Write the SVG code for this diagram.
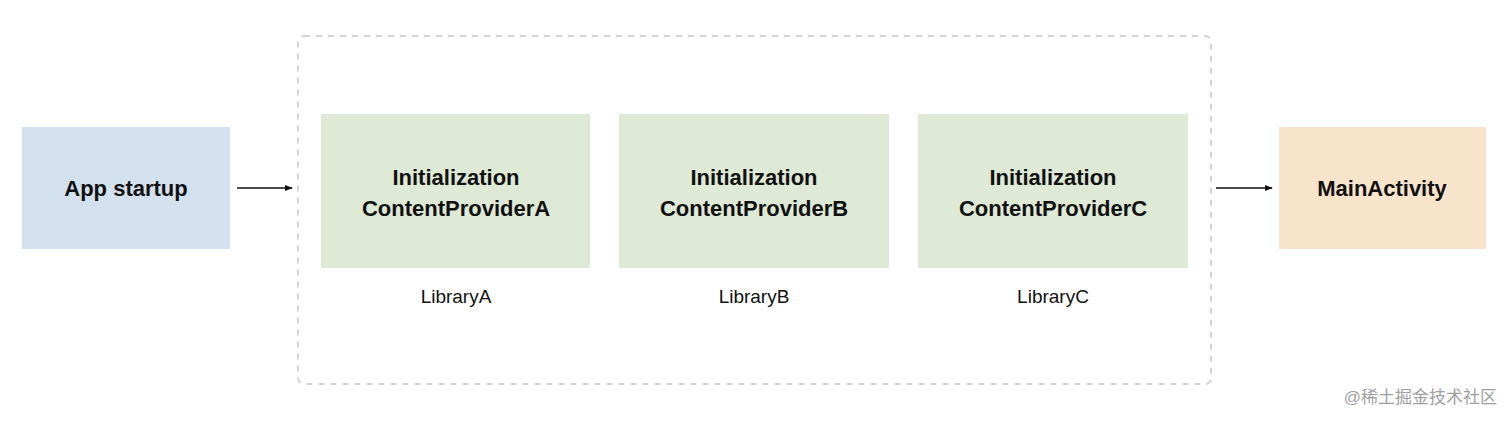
<svg xmlns="http://www.w3.org/2000/svg" width="1512" height="421" viewBox="0 0 1512 421">
<style>
.t{font-family:"Liberation Sans",Arial,sans-serif;fill:#111;text-anchor:middle}
.b{font-size:22px;font-weight:bold}
.l{font-size:19px}
.g{fill:#dee9d6}
.c{stroke:#111;stroke-width:1.5;fill:none;marker-end:url(#a)}
</style>
<defs><marker id="a" viewBox="0 0 10 10" refX="9" refY="5" markerWidth="8" markerHeight="8" markerUnits="userSpaceOnUse" orient="auto"><path d="M0,1 L10,5 L0,9 z" fill="#111"/></marker></defs>
<rect width="1512" height="421" fill="#fff"/>
<g id="container"><rect x="298" y="36" width="913" height="348" rx="6" fill="none" stroke="#d4d4d4" stroke-width="2" stroke-dasharray="6,6"/></g>
<g id="app"><rect x="22" y="127" width="208" height="122" fill="#d3e1ef"/><text class="t b" x="126" y="196">App startup</text></g>
<g id="cpA"><rect class="g" x="321" y="114" width="269" height="154"/><text class="t b" x="456" y="185">Initialization</text><text class="t b" x="456" y="216">ContentProviderA</text><text class="t l" x="456" y="303">LibraryA</text></g>
<g id="cpB"><rect class="g" x="619" y="114" width="270" height="154"/><text class="t b" x="754" y="185">Initialization</text><text class="t b" x="754" y="216">ContentProviderB</text><text class="t l" x="754" y="303">LibraryB</text></g>
<g id="cpC"><rect class="g" x="918" y="114" width="270" height="154"/><text class="t b" x="1053" y="185">Initialization</text><text class="t b" x="1053" y="216">ContentProviderC</text><text class="t l" x="1053" y="303">LibraryC</text></g>
<g id="main"><rect x="1279" y="127" width="207" height="122" fill="#f8e3cb"/><text class="t b" x="1382" y="196">MainActivity</text></g>
<g id="connectors"><path class="c" d="M237,188 H292"/><path class="c" d="M1216,188 H1272"/></g>
<text x="1497" y="403" style="font-family:'Liberation Sans','Noto Sans CJK SC',sans-serif;font-size:17px;fill:#a0a0a0;text-anchor:end">@稀土掘金技术社区</text>
</svg>
